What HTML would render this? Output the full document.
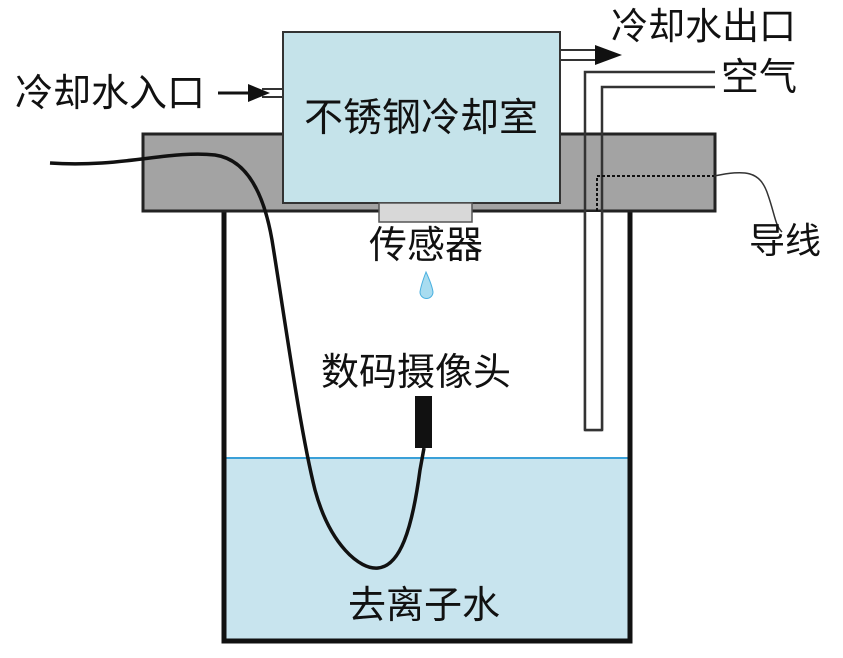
<!DOCTYPE html>
<html><head><meta charset="utf-8"><style>
body{margin:0;background:#fff}
svg text{font-family:"Liberation Sans","Noto Sans CJK SC",sans-serif;fill:#111}
</style></head><body>
<svg width="843" height="653" viewBox="0 0 843 653" xmlns="http://www.w3.org/2000/svg">
<rect x="224" y="458" width="406" height="183" fill="#c8e4ee"/>
<line x1="224" y1="458" x2="630" y2="458" stroke="#3aa0d8" stroke-width="2"/>
<path d="M224 210 V641 H630 V210" fill="none" stroke="#111" stroke-width="5"/>
<rect x="143" y="134" width="572" height="77" fill="#a3a3a3" stroke="#222" stroke-width="3"/>
<rect x="283" y="32" width="277" height="171" fill="#c5e3ea" stroke="#333" stroke-width="2"/>
<rect x="379" y="203" width="93" height="19" fill="#d8d8d8" stroke="#555" stroke-width="1.5"/>
<path d="M426 272 Q432 285 433 292 A6 6 0 0 1 420 292 Q421 285 426 272Z" fill="#a8dcf0" stroke="#4ab0e0" stroke-width="1"/>
<rect x="415" y="396" width="17" height="52" fill="#111"/>
<path d="M585 430 V72 H715 M602 430 V87 H715 M585 430 H602" fill="none" stroke="#333" stroke-width="2.5"/>
<rect x="586" y="212" width="15" height="217" fill="#fff"/>
<path d="M585 211 V430 H602 V211" fill="none" stroke="#333" stroke-width="2.5"/>
<path d="M597 211 V176 H714" fill="none" stroke="#111" stroke-width="2" stroke-dasharray="3 2"/>
<path d="M714 176 C745 170 760 170 768 195 C775 215 775 225 782 232" fill="none" stroke="#333" stroke-width="1.5"/>
<line x1="218" y1="93" x2="250" y2="93" stroke="#111" stroke-width="3"/>
<path d="M248 84 L270 93 L248 102Z" fill="#111"/>
<line x1="262" y1="89" x2="283" y2="89" stroke="#333" stroke-width="2"/>
<line x1="262" y1="97" x2="283" y2="97" stroke="#333" stroke-width="2"/>
<line x1="560" y1="50" x2="600" y2="50" stroke="#333" stroke-width="2"/>
<line x1="560" y1="60" x2="600" y2="60" stroke="#333" stroke-width="2"/>
<path d="M595 45 L622 55 L595 65Z" fill="#111"/>
<path d="M50 163 C120 168 170 150 215 155 C250 160 265 200 272 240 C285 320 300 430 315 490 C330 545 360 570 378 568 C400 566 412 530 420 470 L424 448" fill="none" stroke="#111" stroke-width="3.5"/>
<text x="15" y="106" font-size="38">冷却水入口</text>
<text x="611" y="39" font-size="37">冷却水出口</text>
<text x="721" y="90" font-size="38">空气</text>
<text x="304" y="131" font-size="39">不锈钢冷却室</text>
<text x="749" y="253" font-size="36">导线</text>
<text x="369" y="258" font-size="38">传感器</text>
<text x="321" y="385" font-size="38">数码摄像头</text>
<text x="348" y="618" font-size="38">去离子水</text>
</svg>
</body></html>
